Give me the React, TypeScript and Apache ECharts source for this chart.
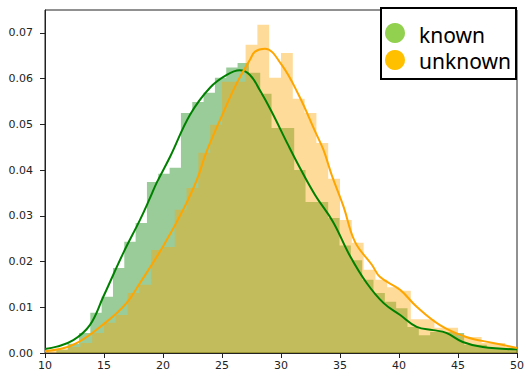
import React, { useEffect, useRef } from "react";
import * as echarts from "echarts";

// ---- data ----
const xTicks = [10, 15, 20, 25, 30, 35, 40, 45, 50];
const yTicks = [0, 0.01, 0.02, 0.03, 0.04, 0.05, 0.06, 0.07];

// "known" histogram: bins start at 10.96, width 0.96
const knownBinStart = 10.96;
const knownBinWidth = 0.96;
const knownHeights = [
  0.0007, 0.002, 0.0044, 0.0088, 0.0123, 0.0186, 0.0243, 0.0284, 0.0374, 0.0392,
  0.0405, 0.0525, 0.0549, 0.0569, 0.0602, 0.0624, 0.0634, 0.0613, 0.0567, 0.0492,
  0.0492, 0.040, 0.033, 0.033, 0.0295, 0.0235, 0.0203, 0.016, 0.0131, 0.0112,
  0.0098, 0.0057, 0.0039, 0.0046, 0.0046, 0.0044, 0.0018, 0.0018, 0.0011, 0.0011,
  0.0007,
];

// "unknown" histogram: bins start at 10, width 1
const unknownBinStart = 10;
const unknownBinWidth = 1;
const unknownHeights = [
  0.0005, 0.0008, 0.0013, 0.0022, 0.0044, 0.0066, 0.0083, 0.0131, 0.0149, 0.0225,
  0.0232, 0.0313, 0.0361, 0.0438, 0.0499, 0.0593, 0.0593, 0.0674, 0.0718, 0.0602,
  0.0656, 0.0556, 0.0525, 0.0459, 0.0381, 0.0291, 0.0241, 0.0182, 0.016, 0.0144,
  0.0136, 0.0074, 0.0074, 0.0055, 0.0055, 0.0035, 0.0035, 0.0022, 0.0022, 0.0013,
];

// KDE curves
const knownKdeX = [10, 11, 12.4, 13.8, 14.94, 16.64, 18.05, 18.9, 19.46, 20.6, 22.29, 23.98, 25.4, 26.5, 27.37, 28.2, 29.2, 30.6, 31.6, 32.9, 34.4, 35.85, 37.26, 38.7, 40.1, 41.5, 42.9, 44.0, 45.4, 47.1, 50];
const knownKdeY = [0.0009, 0.0014, 0.0028, 0.0061, 0.0123, 0.0219, 0.0291, 0.0339, 0.0372, 0.0429, 0.0521, 0.058, 0.0608, 0.0618, 0.0608, 0.0575, 0.0528, 0.0455, 0.0405, 0.0345, 0.0287, 0.0212, 0.0153, 0.0109, 0.0083, 0.0057, 0.005, 0.0044, 0.0024, 0.0013, 0.0008];

const unknownKdeX = [10, 12.4, 15.2, 16.9, 18.05, 20.0, 21.7, 22.86, 23.7, 25.1, 26.25, 27.37, 27.8, 28.64, 30.06, 31.5, 32.9, 33.6, 34.3, 35.3, 36.27, 37.7, 38.4, 40.1, 41.5, 43.47, 45.7, 47.97, 50];
const unknownKdeY = [0.0004, 0.0018, 0.0068, 0.0109, 0.0153, 0.0233, 0.0313, 0.0378, 0.0441, 0.0525, 0.059, 0.0641, 0.0659, 0.0665, 0.063, 0.0564, 0.0484, 0.0444, 0.0389, 0.032, 0.0243, 0.0193, 0.0166, 0.0138, 0.0101, 0.0061, 0.0035, 0.0022, 0.0011];

const legendNames = ["known", "unknown"];

function histBins(start: number, width: number, heights: number[]) {
  return heights.map((h, i) => [start + i * width, start + (i + 1) * width, h]);
}

function stepRenderer(bins: number[][], fill: string) {
  return (params: any, api: any) => {
    if (params.dataIndex !== 0) return null;
    const pts: number[][] = [];
    pts.push(api.coord([bins[0][0], 0]));
    bins.forEach((b) => {
      pts.push(api.coord([b[0], b[2]]));
      pts.push(api.coord([b[1], b[2]]));
    });
    pts.push(api.coord([bins[bins.length - 1][1], 0]));
    return { type: "polygon", shape: { points: pts }, style: { fill } };
  };
}

export default function App() {
  const ref = useRef<HTMLDivElement>(null);
  useEffect(() => {
    if (!ref.current) return;
    const chart = echarts.init(ref.current, null, { renderer: "svg" });
    const knownBins = histBins(knownBinStart, knownBinWidth, knownHeights);
    const unknownBins = histBins(unknownBinStart, unknownBinWidth, unknownHeights);
    const font = "DejaVu Sans";
    chart.setOption({
      animation: false,
      grid: {
        left: 45,
        top: 10,
        width: 472,
        height: 343,
        show: true,
        borderColor: "#222",
        borderWidth: 1,
        backgroundColor: "transparent",
      },
      xAxis: {
        type: "value",
        min: 10,
        max: 50,
        interval: 5,
        splitLine: { show: false },
        axisLine: { show: true, onZero: false, lineStyle: { color: "#222", width: 1 } },
        axisTick: { show: true, length: 5, lineStyle: { color: "#222" }, customValues: xTicks },
        axisLabel: { color: "#222", fontFamily: font, fontSize: 11, margin: 7, customValues: xTicks },
      },
      yAxis: {
        type: "value",
        min: 0,
        max: 0.075,
        interval: 0.01,
        splitLine: { show: false },
        axisLine: { show: true, lineStyle: { color: "#222", width: 1 } },
        axisTick: { show: true, length: 5, lineStyle: { color: "#222" }, customValues: yTicks },
        axisLabel: {
          color: "#222",
          fontFamily: font,
          fontSize: 11,
          margin: 12,
          customValues: yTicks,
          formatter: (v: number) => v.toFixed(2),
        },
      },
      series: [
        {
          type: "custom",
          name: "known hist",
          clip: true,
          renderItem: stepRenderer(knownBins, "rgba(0,128,0,0.4)"),
          data: knownBins,
          encode: { x: [0, 1], y: 2 },
          silent: true,
          z: 1,
        },
        {
          type: "custom",
          name: "unknown hist",
          clip: true,
          renderItem: stepRenderer(unknownBins, "rgba(255,165,0,0.4)"),
          data: unknownBins,
          encode: { x: [0, 1], y: 2 },
          silent: true,
          z: 2,
        },
        {
          type: "line",
          name: "known kde",
          data: knownKdeX.map((x, i) => [x, knownKdeY[i]]),
          smooth: 0.4,
          showSymbol: false,
          clip: true,
          lineStyle: { color: "#008000", width: 2 },
          z: 3,
        },
        {
          type: "line",
          name: "unknown kde",
          data: unknownKdeX.map((x, i) => [x, unknownKdeY[i]]),
          smooth: 0.4,
          showSymbol: false,
          clip: true,
          lineStyle: { color: "#FFA500", width: 2 },
          z: 4,
        },
      ],
      graphic: [
        {
          type: "group",
          z: 100,
          children: [
            {
              type: "rect",
              shape: { x: 381, y: 8, width: 135, height: 71 },
              style: { fill: "#fff", stroke: "#000", lineWidth: 2 },
            },
            { type: "circle", shape: { cx: 395, cy: 33, r: 10 }, style: { fill: "#92D050" } },
            { type: "circle", shape: { cx: 395, cy: 60, r: 10 }, style: { fill: "#FFC000" } },
            {
              type: "text",
              x: 419,
              y: 35,
              style: {
                text: legendNames[0],
                fill: "#000",
                font: '21px "Noto Sans"',
                verticalAlign: "middle",
              },
            },
            {
              type: "text",
              x: 419,
              y: 61,
              style: {
                text: legendNames[1],
                fill: "#000",
                font: '21px "Noto Sans"',
                verticalAlign: "middle",
              },
            },
          ],
        },
      ],
    });
    return () => chart.dispose();
  }, []);
  return (
    <div
      ref={ref}
      style={{ position: "fixed", left: 0, top: 0, width: 532, height: 383, background: "#fff" }}
    />
  );
}
